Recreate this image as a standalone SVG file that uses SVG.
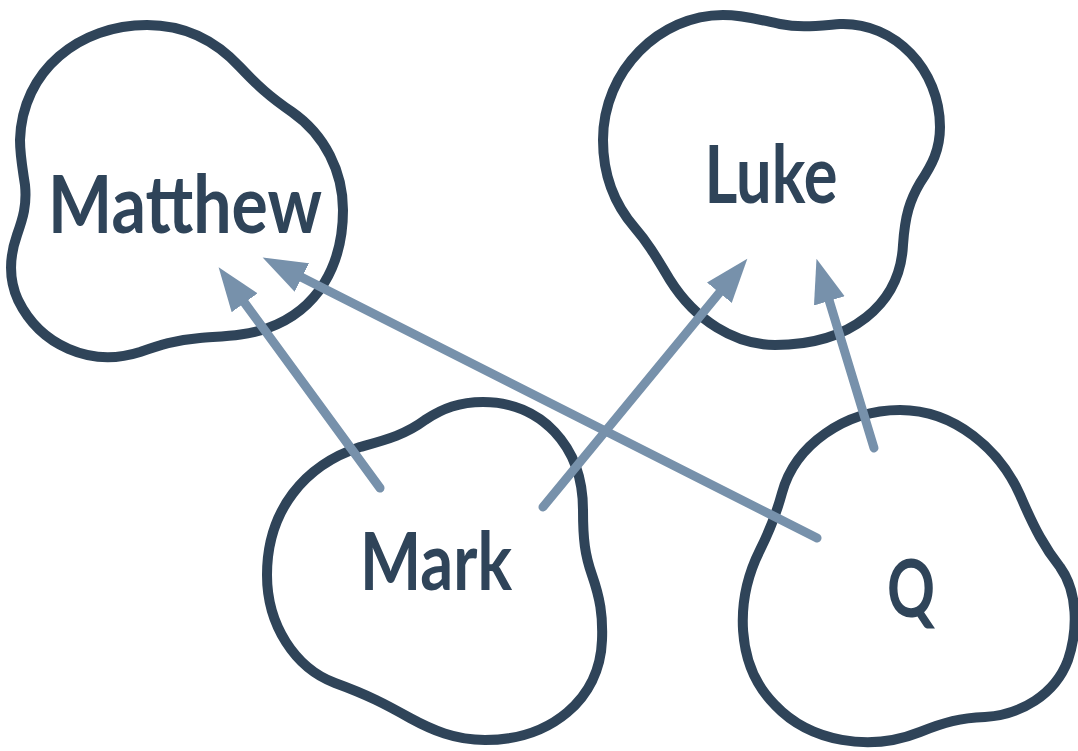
<svg xmlns="http://www.w3.org/2000/svg" width="1078" height="751" viewBox="0 0 1078 751">
  <style>
    .blob { fill: #ffffff; stroke: #2f4459; stroke-width: 10; stroke-linejoin: round; }
    .label { font-family: Lato, "Noto Sans", sans-serif; font-weight: 700; font-size: 80px; fill: #2f4459; text-anchor: middle; }
    .edge { fill: none; stroke: #7791ab; stroke-width: 9; stroke-linecap: round; }
  </style>
  <defs>
    <marker id="head" markerUnits="userSpaceOnUse" markerWidth="46" markerHeight="34" viewBox="0 0 46 34" refX="1" refY="17" orient="auto">
      <path d="M0,1 L44,17 L0,33 Z" fill="#7791ab"/>
    </marker>
  </defs>
  <rect width="1078" height="751" fill="#ffffff"/>

  <g id="matthew">
    <path class="blob" d="M 147 25 C 185 25, 215 40, 240 67 C 258 86, 270 97, 292 112 C 325 135, 343 172, 343 210 C 343 265, 318 310, 268 328 C 245 336, 225 336, 200 338 C 175 340, 160 345, 140 352 C 90 368, 40 345, 18 300 C 8 278, 10 255, 17 235 C 23 218, 27 205, 25 185 C 22 165, 20 155, 20 140 C 22 70, 80 25, 147 25 Z"/>
    <text class="label" x="185" y="233" textLength="274" lengthAdjust="spacingAndGlyphs">Matthew</text>
  </g>

  <g id="luke">
    <path class="blob" d="M 723 15 C 745 15, 760 20, 780 24 C 800 28, 815 26, 840 24 C 895 22, 940 70, 940 127 C 940 150, 932 165, 920 183 C 910 200, 905 215, 903 245 C 900 305, 850 345, 775 345 C 735 345, 695 320, 670 280 C 655 255, 648 243, 635 228 C 615 205, 603 175, 603 140 C 603 70, 660 15, 723 15 Z"/>
    <text class="label" x="771" y="203" textLength="133" lengthAdjust="spacingAndGlyphs">Luke</text>
  </g>

  <g id="mark">
    <path class="blob" d="M 483 402 C 540 402, 583 445, 583 510 C 583 540, 585 555, 592 575 C 600 598, 603 615, 602 640 C 600 700, 550 740, 485 740 C 455 740, 432 730, 410 718 C 385 704, 368 695, 335 683 C 295 668, 267 625, 267 575 C 267 510, 305 465, 360 447 C 385 440, 405 435, 425 420 C 443 408, 460 402, 483 402 Z"/>
    <text class="label" x="436" y="590" textLength="152" lengthAdjust="spacingAndGlyphs">Mark</text>
  </g>

  <g id="q">
    <path class="blob" d="M 900 410 C 955 410, 1000 450, 1020 495 C 1035 530, 1045 548, 1060 567 C 1078 592, 1078 630, 1068 660 C 1055 695, 1020 715, 985 717 C 960 718, 945 722, 920 732 C 870 752, 810 742, 775 705 C 735 665, 735 600, 760 550 C 770 530, 776 515, 782 493 C 795 445, 845 410, 900 410 Z"/>
    <text class="label" x="911" y="617" textLength="48" lengthAdjust="spacingAndGlyphs">Q</text>
  </g>

  <g id="connectors">
    <line class="edge" x1="380" y1="488" x2="244" y2="302" marker-end="url(#head)"/>
    <line class="edge" x1="817" y1="538" x2="301" y2="277" marker-end="url(#head)"/>
    <line class="edge" x1="543" y1="507" x2="720" y2="292" marker-end="url(#head)"/>
    <line class="edge" x1="874" y1="448" x2="829" y2="300" marker-end="url(#head)"/>
  </g>
</svg>
